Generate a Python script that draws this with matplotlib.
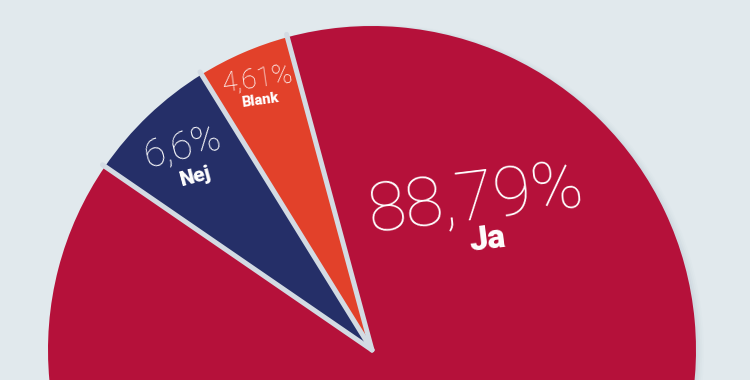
import matplotlib
matplotlib.use("Agg")
import numpy as np
import matplotlib.pyplot as plt
from matplotlib.patches import Circle

# Data (pie order: Ja, Blank, Nej)
categories = ["Ja", "Blank", "Nej"]
values = [88.79, 4.61, 6.6]
value_labels = ["88,79%", "4,61%", "6,6%"]
colors = ["#b5113a", "#e2412a", "#252f68"]

BG = "#e1e9ed"
EDGE = "#d3dbe3"
START = 145.5

fig = plt.figure(figsize=(7.5, 3.8), dpi=100)
fig.patch.set_facecolor(BG)
ax = fig.add_axes([0, 0, 1, 1])

cx, cy, R = 372, 380 - 350, 324

# soft shadow on the right side
for i, a in enumerate([0.10, 0.07, 0.05, 0.03]):
    ax.add_patch(Circle((cx + 2 + i, cy - 1), R + 0.5 + i * 0.8, facecolor="#9fb0c2",
                        edgecolor="none", alpha=a, zorder=1))

wedges, _ = ax.pie(values, colors=colors, startangle=START, counterclock=True,
                   center=(cx, cy), radius=R, frame=True,
                   wedgeprops=dict(edgecolor="none", linewidth=0))
for w in wedges:
    w.set_zorder(2)

# separators between slices
bounds = START + 360 * np.cumsum([0] + values[:-1]) / sum(values)
for ang in bounds:
    t = np.deg2rad(ang)
    ax.plot([cx, cx + (R + 3) * np.cos(t)], [cy, cy + (R + 3) * np.sin(t)],
            color=EDGE, lw=3.6, solid_capstyle="round", zorder=3)

ax.set_xlim(0, 750)
ax.set_ylim(0, 380)
ax.set_aspect("equal")
ax.axis("off")

num_font = dict(family=["Roboto", "Lato", "DejaVu Sans"], fontweight=100, color="white")
lab_font = dict(family=["Roboto", "Lato", "DejaVu Sans"], fontweight="black", color="white")

# Ja
ax.text(476, 380 - 200, value_labels[0], fontsize=50, rotation=7, ha="center", va="center",
        zorder=5, **num_font)
ax.text(487, 380 - 240, categories[0], fontsize=24, rotation=7, ha="center", va="center",
        zorder=5, **lab_font)
# Blank
ax.text(258, 380 - 79, value_labels[1], fontsize=20, rotation=8, ha="center", va="center",
        zorder=5, **num_font)
ax.text(260, 380 - 100, categories[1], fontsize=10.5, rotation=8, ha="center", va="center",
        zorder=5, **lab_font)
# Nej
ax.text(183, 380 - 147, value_labels[2], fontsize=28, rotation=15, ha="center", va="center",
        zorder=5, **num_font)
ax.text(196, 380 - 177, categories[2], fontsize=15, rotation=15, ha="center", va="center",
        zorder=5, **lab_font)

fig.savefig("out.png", dpi=100, facecolor=BG)
